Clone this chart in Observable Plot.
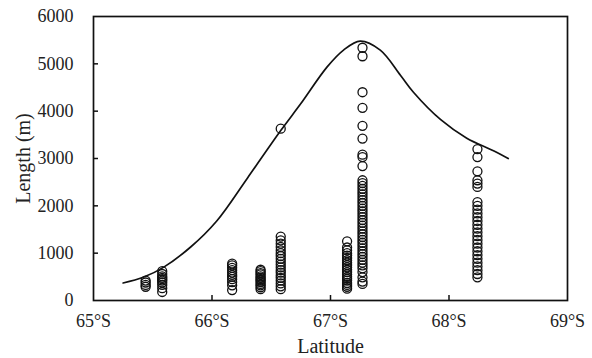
<!DOCTYPE html>
<html>
<head>
<meta charset="utf-8">
<script src="https://cdn.jsdelivr.net/npm/d3@7"></script>
<script src="https://cdn.jsdelivr.net/npm/@observablehq/plot@0.6"></script>
<style>
  html, body { margin: 0; padding: 0; background: #fff; }
  #chart svg { display: block; }
</style>
</head>
<body>
<div id="chart"></div>
<script>
// Tick values
const xTicks = [65, 66, 67, 68, 69];
const yTicks = [0, 1000, 2000, 3000, 4000, 5000, 6000];

// Observed lengths (m) per latitude cluster (°S)
const clusterLat = [65.44, 65.58, 66.17, 66.41, 66.58, 67.14, 67.27, 68.24];
const len6544 = [290, 330, 380, 420];
const len6558 = [180, 260, 330, 380, 420, 450, 480, 510, 560, 620];
const len6617 = [220, 320, 390, 450, 500, 540, 590, 640, 690, 740, 780];
const len6641 = [240, 280, 320, 350, 390, 420, 450, 480, 510, 550, 580, 620, 650];
const len6658 = [240, 300, 360, 420, 480, 530, 590, 640, 700, 760, 820, 880, 940, 1000, 1060, 1130, 1200, 1270, 1350, 3630];
const len6714 = [250, 290, 330, 370, 420, 460, 500, 550, 600, 650, 700, 750, 800, 850, 900, 950, 1000, 1060, 1120, 1250];
const len6727 = [350, 400, 490, 600, 680, 740, 800, 860, 920, 980, 1040, 1100, 1160, 1220, 1280, 1340, 1400, 1460, 1520, 1580, 1640, 1700, 1760, 1820, 1880, 1940, 2000, 2060, 2120, 2180, 2240, 2300, 2360, 2420, 2480, 2540, 2840, 3030, 3080, 3420, 3690, 4070, 4400, 5160, 5340];
const len6824 = [490, 560, 640, 720, 800, 880, 960, 1040, 1120, 1200, 1280, 1360, 1440, 1520, 1600, 1680, 1760, 1840, 1920, 2000, 2080, 2400, 2470, 2540, 2730, 3030, 3200];

// Envelope curve
const curveLat = [65.25, 65.42, 65.59, 65.82, 66.04, 66.30, 66.58, 66.75, 66.97, 67.11, 67.25, 67.42, 67.59, 67.70, 67.93, 68.15, 68.38, 68.50];
const curveLen = [370, 490, 700, 1130, 1680, 2590, 3590, 4160, 4930, 5290, 5480, 5290, 4760, 4400, 3820, 3430, 3160, 3000];

const clusters = [len6544, len6558, len6617, len6641, len6658, len6714, len6727, len6824];
const points = clusters.flatMap((vals, i) => vals.map(v => ({lat: clusterLat[i], len: v})));
const curve = curveLat.map((x, i) => ({lat: x, len: curveLen[i]}));

const W = 592, H = 358;
const mL = 93, mR = 25, mT = 16, mB = 58;
const font = "'Liberation Serif', 'Times New Roman', serif";

const chart = Plot.plot({
  width: W,
  height: H,
  marginLeft: mL,
  marginRight: mR,
  marginTop: mT,
  marginBottom: mB,
  style: {fontFamily: font, fontSize: "18px", color: "#222", background: "#fff"},
  x: {domain: [65, 69]},
  y: {domain: [0, 6000]},
  marks: [
    Plot.axisX({ticks: xTicks, tickSize: 0, tickPadding: 14, tickFormat: d => d + "°S",
      label: "Latitude", labelAnchor: "center", labelArrow: "none", labelOffset: 52, fontSize: 18}),
    Plot.axisY({ticks: yTicks, tickSize: 0, tickPadding: 20, tickFormat: d => String(d),
      label: "Length (m)", labelAnchor: "center", labelArrow: "none", labelOffset: 78, fontSize: 18}),
    Plot.tickX(xTicks.slice(1, -1), {x: d => d, insetTop: H - mT - mB - 5, stroke: "#111", strokeWidth: 1.5}),
    Plot.tickY(yTicks.slice(1, -1), {y: d => d, insetRight: W - mL - mR - 5, stroke: "#111", strokeWidth: 1.5}),
    Plot.dot(points, {x: "lat", y: "len", r: 4.5, stroke: "#111", strokeWidth: 1.3, fill: "none"}),
    Plot.line(curve, {x: "lat", y: "len", curve: "catmull-rom", stroke: "#111", strokeWidth: 1.7}),
    Plot.frame({stroke: "#111", strokeWidth: 1.7})
  ]
});
chart.querySelectorAll("[aria-label='x-axis label'] text, [aria-label='y-axis label'] text").forEach(t => t.setAttribute("font-size", "20"));
document.getElementById("chart").appendChild(chart);
</script>
</body>
</html>
